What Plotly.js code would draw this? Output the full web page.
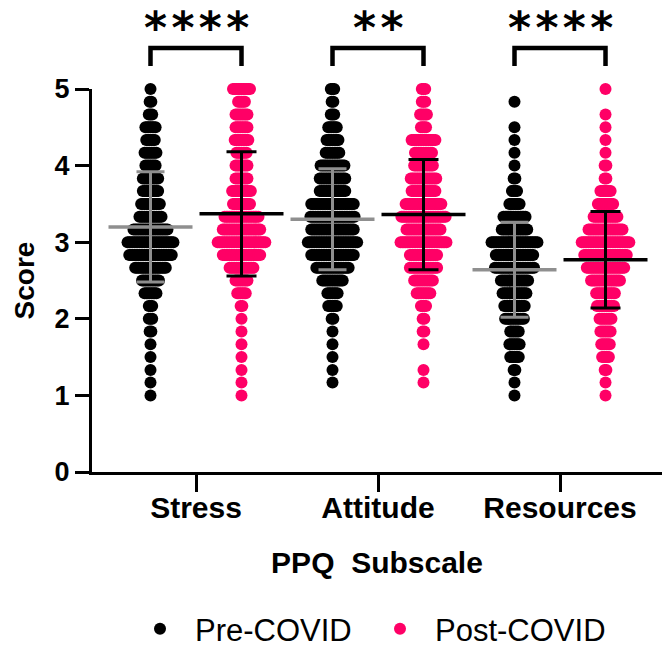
<!DOCTYPE html>
<html><head><meta charset="utf-8">
<script src="https://cdn.plot.ly/plotly-3.0.1.min.js"></script>
<style>html,body{margin:0;padding:0;background:#fff}</style>
</head><body><div id="chart" style="width:665px;height:649px"></div>
<script>
// ---------------- data ----------------
const categories = ['Stress', 'Attitude', 'Resources'];
const seriesNames = ['Pre-COVID', 'Post-COVID'];
const scoreLevels = [5.000, 4.833, 4.667, 4.500, 4.333, 4.167, 4.000, 3.833, 3.667, 3.500, 3.333, 3.167, 3.000,
                     2.833, 2.667, 2.500, 2.333, 2.167, 2.000, 1.833, 1.667, 1.500, 1.333, 1.167, 1.000];
// number of respondents at each score level (aligned with scoreLevels)
const stressPreCounts    = [1, 2, 3, 7, 6, 8, 7, 10, 10, 12, 14, 21, 28, 26, 19, 11, 8, 3, 3, 2, 1, 1, 1, 1, 1];
const stressPostCounts   = [11, 5, 8, 8, 9, 7, 8, 8, 12, 11, 21, 23, 29, 23, 15, 8, 6, 2, 1, 1, 1, 1, 1, 1, 1];
const attitudePreCounts  = [3, 2, 3, 6, 8, 9, 15, 16, 16, 26, 27, 26, 30, 26, 20, 13, 7, 6, 2, 1, 1, 1, 1, 1, 0];
const attitudePostCounts = [3, 3, 5, 4, 15, 11, 12, 16, 15, 22, 27, 21, 28, 17, 17, 12, 9, 4, 2, 2, 1, 0, 1, 1, 0];
const resourcesPreCounts = [0, 1, 0, 1, 1, 1, 1, 2, 4, 7, 14, 16, 28, 23, 24, 17, 15, 13, 12, 6, 7, 6, 2, 1, 1];
const resourcesPostCounts= [1, 0, 1, 1, 1, 1, 2, 2, 7, 10, 15, 21, 29, 26, 23, 18, 12, 11, 8, 7, 6, 5, 2, 1, 1];
const preMeans  = [3.20, 3.30, 2.64];
const preSDs    = [0.72, 0.66, 0.62];
const postMeans = [3.37, 3.36, 2.77];
const postSDs   = [0.81, 0.72, 0.63];
const sigLabels = ['****', '**', '****'];
const yTickVals = [0, 1, 2, 3, 4, 5];

// ---------------- styling / layout constants ----------------
const W = 665, H = 649;
const M = {l: 92, r: 3, t: 89, b: 177, autoexpand: false};
const plotW = W - M.l - M.r, plotH = H - M.t - M.b;
const xRange = [0.4286, 3.5604];
const yRange = [0, 5];
const unitPerPx = (xRange[1] - xRange[0]) / plotW;
const groupOffset = 0.25;
const dotSpacing = 1.7 * unitPerPx;
const preColor = '#000000', postColor = '#FF0066', preBarColor = '#8f8f8f', postBarColor = '#000000';
const FONT = 'Liberation Sans, Arial, Helvetica, sans-serif';
const paperY = px => (H - M.b - px) / plotH;
const paperX = px => (px - M.l) / plotW;

function swarm(counts, catIdx, side) {
  const cx = catIdx + 1 + side * groupOffset;
  const xs = [], ys = [];
  counts.forEach((n, k) => {
    for (let i = 0; i < n; i++) {
      xs.push(cx + (i - (n - 1) / 2) * dotSpacing);
      ys.push(scoreLevels[k]);
    }
  });
  return {xs, ys};
}
const preGroups = [stressPreCounts, attitudePreCounts, resourcesPreCounts];
const postGroups = [stressPostCounts, attitudePostCounts, resourcesPostCounts];
function collect(groups, side) {
  const X = [], Y = [];
  groups.forEach((c, i) => { const s = swarm(c, i, side); X.push(...s.xs); Y.push(...s.ys); });
  return {X, Y};
}
const pre = collect(preGroups, -1), post = collect(postGroups, 1);

const traces = [
  {type: 'scatter', mode: 'markers', name: seriesNames[0], x: pre.X, y: pre.Y, cliponaxis: false,
   legend: 'legend', marker: {color: preColor, size: 12, line: {width: 0}}},
  {type: 'scatter', mode: 'markers', name: seriesNames[1], x: post.X, y: post.Y, cliponaxis: false,
   legend: 'legend2', marker: {color: postColor, size: 12, line: {width: 0}}},
  {type: 'scatter', mode: 'markers', showlegend: false, hoverinfo: 'skip', cliponaxis: false,
   x: categories.map((c, i) => i + 1 - groupOffset), y: preMeans,
   marker: {symbol: 'line-ew', size: 60, color: preBarColor, line: {color: preBarColor, width: 3.5}},
   error_y: {type: 'data', array: preSDs, visible: true, color: preBarColor, thickness: 3, width: 14}},
  {type: 'scatter', mode: 'markers', showlegend: false, hoverinfo: 'skip', cliponaxis: false,
   x: categories.map((c, i) => i + 1 + groupOffset), y: postMeans,
   marker: {symbol: 'line-ew', size: 60, color: postBarColor, line: {color: postBarColor, width: 3.5}},
   error_y: {type: 'data', array: postSDs, visible: true, color: postBarColor, thickness: 3, width: 15}}
];

const barTop = paperY(48), legBottom = paperY(66), starTop = paperY(1);
const shapes = categories.map((c, i) => {
  const a = i + 1 - groupOffset, b = i + 1 + groupOffset;
  return {type: 'path', xref: 'x', yref: 'paper', layer: 'above',
          path: `M ${a},${legBottom} L ${a},${barTop} L ${b},${barTop} L ${b},${legBottom}`,
          line: {color: '#000', width: 4.5}};
});
const annotations = categories.map((c, i) => ({
  xref: 'x', yref: 'paper', x: i + 1, y: starTop, xanchor: 'center', yanchor: 'top',
  text: sigLabels[i].split('').join('\u200a'), showarrow: false, borderpad: 0,
  font: {family: 'DejaVu Sans, sans-serif', size: 44, color: '#000', weight: 700}
}));

const legendBase = {orientation: 'h', xanchor: 'left', y: paperY(629), yanchor: 'middle',
  font: {family: FONT, size: 31, color: '#000'}, itemwidth: 60, bgcolor: 'rgba(0,0,0,0)'};

const layout = {
  width: W, height: H, margin: M,
  paper_bgcolor: '#fff', plot_bgcolor: '#fff',
  font: {family: FONT, color: '#000'},
  showlegend: true,
  legend: Object.assign({}, legendBase, {x: paperX(125)}),
  legend2: Object.assign({}, legendBase, {x: paperX(365)}),
  xaxis: {range: xRange, tickvals: [1, 2, 3], ticktext: categories, ticks: 'outside', ticklen: 17, tickwidth: 3,
          tickcolor: '#000', showline: true, linewidth: 3, linecolor: '#000', showgrid: false, zeroline: false,
          automargin: false, ticklabelstandoff: -10,
          tickfont: {family: FONT, size: 30, weight: 700, color: '#000'},
          title: {text: 'PPQ\u00a0 Subscale', font: {family: FONT, size: 30, weight: 700, color: '#000'}, standoff: 29}},
  yaxis: {range: yRange, tickvals: yTickVals, ticks: 'outside', ticklen: 14, tickwidth: 3,
          tickcolor: '#000', showline: true, linewidth: 3, linecolor: '#000', showgrid: false, zeroline: false,
          automargin: false,
          tickfont: {family: FONT, size: 27, weight: 700, color: '#000'},
          title: {text: 'Score', font: {family: FONT, size: 28, weight: 700, color: '#000'}, standoff: 12}},
  shapes: shapes, annotations: annotations
};
Plotly.newPlot('chart', traces, layout, {staticPlot: true, displayModeBar: false});
</script></body></html>
